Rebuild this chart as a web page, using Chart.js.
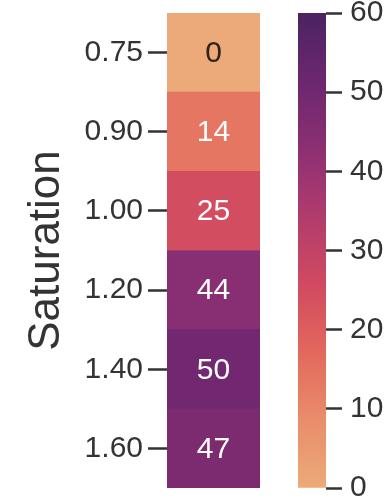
<!DOCTYPE html>
<html><head><meta charset="utf-8">
<script src="https://cdn.jsdelivr.net/npm/chart.js@4"></script>
<style>
html,body{margin:0;padding:0;background:#fff;}
#wrap{position:relative;width:390px;height:502px;overflow:hidden;background:#fff;}
#c1{position:absolute;left:0;top:0;}
#c2{position:absolute;left:260px;top:0;}
</style></head><body>
<div id="wrap"><canvas id="c1" width="262" height="502"></canvas><canvas id="c2" width="130" height="502"></canvas></div>
<script>
const categories = ['0.75','0.90','1.00','1.20','1.40','1.60'];
const values = [0, 14, 25, 44, 50, 47];
const colorbarTicks = [0, 10, 20, 30, 40, 50, 60];
const vmin = 0, vmax = 60;
const axisTitle = 'Saturation';
const flareStops = ['#ECAA7A','#E98D6B','#E3685C','#D14A61','#B13C6C','#8D2F73','#6B276F','#4B2362'];

const FONT = "'Liberation Sans', Arial, sans-serif";
const TXT = '#333333';

function hexToRgb(h){ h=h.replace('#',''); return [parseInt(h.substr(0,2),16),parseInt(h.substr(2,2),16),parseInt(h.substr(4,2),16)]; }
function colorRgb(v){
  const t = Math.min(1, Math.max(0, (v - vmin) / (vmax - vmin)));
  const pos = t * (flareStops.length - 1);
  const i = Math.min(flareStops.length - 2, Math.floor(pos));
  const f = pos - i;
  const a = hexToRgb(flareStops[i]), b = hexToRgb(flareStops[i+1]);
  return a.map((c,k)=>Math.round(c + (b[k]-c)*f));
}
function colorFor(v){ const c = colorRgb(v); return `rgb(${c[0]},${c[1]},${c[2]})`; }
function textColorFor(v){
  const c = colorRgb(v).map(x=>{ x/=255; return x<=0.03928? x/12.92 : Math.pow((x+0.055)/1.055,2.4); });
  const lum = 0.2126*c[0]+0.7152*c[1]+0.0722*c[2];
  return lum > 0.408 ? '#2e2219' : '#ffffff';
}

const cellLabels = {
  id:'cellLabels',
  afterDatasetsDraw(chart){
    const ctx = chart.ctx;
    const meta = chart.getDatasetMeta(0);
    ctx.save();
    ctx.font = `30px ${FONT}`;
    ctx.textAlign = 'center';
    ctx.textBaseline = 'middle';
    meta.data.forEach((bar,i)=>{
      const p = bar.getProps(['x','y','base'], true);
      ctx.fillStyle = textColorFor(values[i]);
      ctx.fillText(String(values[i]), (p.x + p.base)/2, p.y + 1);
    });
    ctx.restore();
  }
};

new Chart(document.getElementById('c1'), {
  type:'bar',
  data:{
    labels: categories,
    datasets:[{
      data: values.map(()=>1),
      backgroundColor: values.map(colorFor),
      borderWidth:0,
      barPercentage:1,
      categoryPercentage:1
    }]
  },
  plugins:[cellLabels],
  options:{
    responsive:false,
    animation:false,
    indexAxis:'y',
    layout:{padding:{top:13,bottom:14,left:0,right:2}},
    plugins:{legend:{display:false},tooltip:{enabled:false}},
    scales:{
      x:{display:false,min:0,max:1},
      y:{
        grid:{offset:false,drawOnChartArea:false,tickLength:19,tickWidth:2.5,tickColor:TXT},
        border:{display:false},
        ticks:{color:TXT,font:{size:30,family:FONT},padding:5},
        title:{display:true,text:axisTitle,color:TXT,font:{size:44,family:FONT},padding:{top:20,bottom:0}},
        afterFit(s){ s.width = 167; s.paddingTop = 0; s.paddingBottom = 0; }
      }
    }
  }
});

new Chart(document.getElementById('c2'), {
  type:'bar',
  data:{
    labels:[''],
    datasets:[{
      data:[[vmin, vmax]],
      backgroundColor(ctx){
        const ca = ctx.chart.chartArea;
        if(!ca) return flareStops[0];
        const g = ctx.chart.ctx.createLinearGradient(0, ca.bottom, 0, ca.top);
        flareStops.forEach((c,i)=>g.addColorStop(i/(flareStops.length-1), c));
        return g;
      },
      borderWidth:0,
      barPercentage:1,
      categoryPercentage:1
    }]
  },
  options:{
    responsive:false,
    animation:false,
    layout:{padding:{left:38,top:13,bottom:14,right:0}},
    plugins:{legend:{display:false},tooltip:{enabled:false}},
    scales:{
      x:{display:false},
      y:{
        position:'right',
        min:vmin, max:vmax,
        afterBuildTicks(s){ s.ticks = colorbarTicks.map(v=>({value:v})); },
        grid:{drawOnChartArea:false,tickLength:16,tickWidth:2.5,tickColor:TXT},
        border:{display:false},
        ticks:{color:TXT,font:{size:30,family:FONT},padding:8},
        afterFit(s){ s.width = 64; s.paddingTop = 0; s.paddingBottom = 0; }
      }
    }
  }
});
</script>
</body></html>
